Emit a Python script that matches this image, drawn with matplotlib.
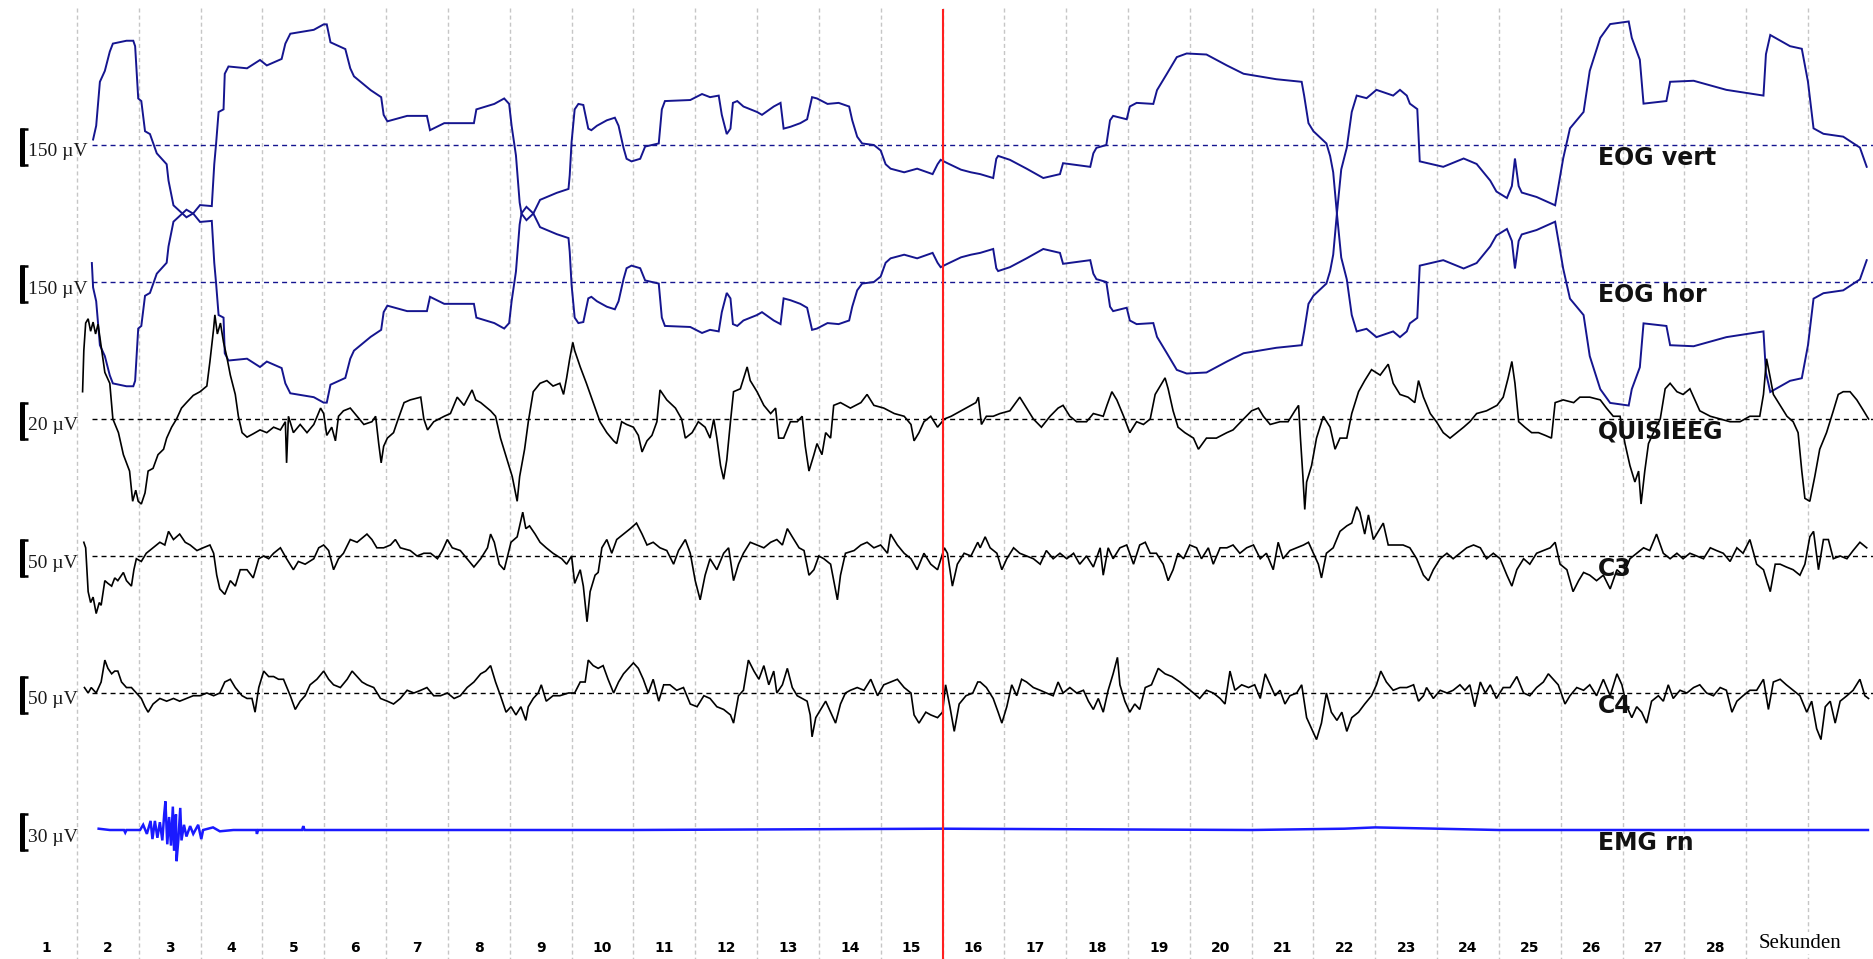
import matplotlib
matplotlib.use("Agg")
import matplotlib.pyplot as plt

# recording: 30 s page, values in microvolts, time in seconds
eog_vert = [(1.26, 21), (1.31, 74), (1.37, 243), (1.45, 285), (1.53, 359), (1.58, 390), (1.80, 401), (1.91, 401),
            (1.94, 380), (1.99, 179), (2.04, 169), (2.10, 53), (2.18, 42), (2.29, -32), (2.45, -74), (2.48, -137),
            (2.56, -232), (2.67, -256), (2.77, -278), (2.88, -263), (2.99, -231), (3.18, -235), (3.22, -74),
            (3.25, 6), (3.29, 127), (3.37, 137), (3.39, 274), (3.45, 302), (3.75, 295), (3.96, 327), (4.07, 306),
            (4.31, 331), (4.37, 390), (4.45, 428), (4.83, 443), (4.99, 464), (5.04, 464), (5.10, 395), (5.34, 369),
            (5.42, 295), (5.48, 264), (5.75, 211), (5.92, 184), (5.96, 116), (6.02, 91), (6.34, 112), (6.66, 112),
            (6.71, 57), (6.94, 84), (7.42, 84), (7.46, 137), (7.75, 158), (7.91, 179), (7.99, 158), (8.03, 74),
            (8.10, -40), (8.16, -221), (8.19, -264), (8.27, -289), (8.38, -264), (8.49, -211), (8.76, -184),
            (8.95, -169), (8.97, -116), (9.00, 11), (9.05, 137), (9.11, 158), (9.19, 154), (9.27, 63), (9.32, 57),
            (9.41, 74), (9.57, 95), (9.70, 105), (9.76, 74), (9.84, -11), (9.89, -53), (9.97, -63), (10.11, -53),
            (10.19, -6), (10.41, 6), (10.46, 137), (10.51, 169), (10.92, 173), (11.11, 196), (11.24, 184),
            (11.38, 190), (11.43, 116), (11.51, 42), (11.57, 63), (11.61, 162), (11.68, 169), (11.78, 148),
            (12.00, 127), (12.08, 116), (12.27, 148), (12.38, 162), (12.43, 63), (12.54, 70), (12.70, 84),
            (12.81, 99), (12.89, 184), (12.97, 179), (13.14, 158), (13.32, 162), (13.49, 148), (13.54, 95),
            (13.62, 32), (13.70, 6), (13.89, 0), (14.00, -21), (14.08, -74), (14.16, -91), (14.38, -105),
            (14.59, -91), (14.76, -105), (14.84, -112), (14.92, -74), (14.97, -57), (15.08, -70), (15.30, -95),
            (15.46, -105), (15.61, -112), (15.82, -127), (15.87, -53), (15.90, -42), (16.09, -57), (16.36, -91),
            (16.63, -127), (16.90, -112), (16.95, -70), (17.39, -84), (17.44, -32), (17.49, -11), (17.65, 0),
            (17.71, 95), (17.76, 112), (17.98, 99), (18.03, 148), (18.14, 162), (18.41, 158), (18.47, 211),
            (18.63, 274), (18.79, 338), (18.95, 352), (19.27, 348), (19.60, 306), (19.87, 274), (20.40, 253),
            (20.81, 243), (20.85, 190), (20.92, 84), (21.00, 53), (21.21, 6), (21.27, -42), (21.32, -105),
            (21.38, -264), (21.45, -433), (21.54, -517), (21.62, -654), (21.70, -717), (21.86, -707), (22.02, -739),
            (22.29, -717), (22.40, -739), (22.51, -717), (22.56, -686), (22.68, -665), (22.72, -464), (23.10, -443),
            (23.43, -475), (23.64, -454), (23.86, -390), (23.96, -348), (24.13, -323), (24.21, -369), (24.26, -475),
            (24.32, -369), (24.37, -344), (24.61, -327), (24.91, -295), (25.04, -475), (25.15, -591), (25.37, -654),
            (25.47, -812), (25.64, -939), (25.80, -992), (26.10, -1002), (26.15, -939), (26.28, -855), (26.34, -686),
            (26.71, -696), (26.77, -770), (27.15, -774), (27.68, -739), (28.28, -717), (28.32, -876), (28.39, -950),
            (28.71, -907), (28.90, -897), (29.00, -770), (29.09, -591), (29.25, -570), (29.57, -559), (29.84, -517),
            (29.95, -443)]

eog_hor = [(1.24, 73), (1.26, -21), (1.31, -74), (1.37, -243), (1.45, -285), (1.53, -359), (1.58, -390),
           (1.80, -401), (1.91, -401), (1.94, -380), (1.99, -179), (2.04, -169), (2.10, -53), (2.18, -42),
           (2.29, 32), (2.45, 74), (2.48, 137), (2.56, 232), (2.67, 256), (2.77, 278), (2.88, 263), (2.99, 231),
           (3.18, 235), (3.22, 74), (3.25, -6), (3.29, -127), (3.37, -137), (3.39, -274), (3.45, -302),
           (3.75, -295), (3.96, -327), (4.07, -306), (4.31, -331), (4.37, -390), (4.45, -428), (4.83, -443),
           (4.99, -464), (5.04, -464), (5.10, -395), (5.34, -369), (5.42, -295), (5.48, -264), (5.75, -211),
           (5.92, -184), (5.96, -116), (6.02, -91), (6.34, -112), (6.66, -112), (6.71, -57), (6.94, -84),
           (7.42, -84), (7.46, -137), (7.75, -158), (7.91, -179), (7.99, -158), (8.03, -74), (8.10, 40),
           (8.16, 221), (8.19, 264), (8.27, 289), (8.38, 264), (8.49, 211), (8.76, 184), (8.95, 169), (8.97, 116),
           (9.00, -11), (9.05, -137), (9.11, -158), (9.19, -154), (9.27, -63), (9.32, -57), (9.41, -74),
           (9.57, -95), (9.70, -105), (9.76, -74), (9.84, 11), (9.89, 53), (9.97, 63), (10.11, 53), (10.19, 6),
           (10.41, -6), (10.46, -137), (10.51, -169), (10.92, -173), (11.11, -196), (11.24, -184), (11.38, -190),
           (11.43, -116), (11.51, -42), (11.57, -63), (11.61, -162), (11.68, -169), (11.78, -148), (12.00, -127),
           (12.08, -116), (12.27, -148), (12.38, -162), (12.43, -63), (12.54, -70), (12.70, -84), (12.81, -99),
           (12.89, -184), (12.97, -179), (13.14, -158), (13.32, -162), (13.49, -148), (13.54, -95), (13.62, -32),
           (13.70, -6), (13.89, 0), (14.00, 21), (14.08, 74), (14.16, 91), (14.38, 105), (14.59, 91), (14.76, 105),
           (14.84, 112), (14.92, 74), (14.97, 57), (15.08, 70), (15.30, 95), (15.46, 105), (15.61, 112),
           (15.82, 127), (15.87, 53), (15.90, 42), (16.09, 57), (16.36, 91), (16.63, 127), (16.90, 112),
           (16.95, 70), (17.39, 84), (17.44, 32), (17.49, 11), (17.65, 0), (17.71, -95), (17.76, -112),
           (17.98, -99), (18.03, -148), (18.14, -162), (18.41, -158), (18.47, -211), (18.63, -274), (18.79, -338),
           (18.95, -352), (19.27, -348), (19.60, -306), (19.87, -274), (20.40, -253), (20.81, -243), (20.85, -190),
           (20.92, -84), (21.00, -53), (21.21, -6), (21.27, 42), (21.32, 105), (21.38, 264), (21.45, 433),
           (21.54, 517), (21.62, 654), (21.70, 717), (21.86, 707), (22.02, 739), (22.29, 717), (22.40, 739),
           (22.51, 717), (22.56, 686), (22.68, 665), (22.72, 464), (23.10, 443), (23.43, 475), (23.64, 454),
           (23.86, 390), (23.96, 348), (24.13, 323), (24.21, 369), (24.26, 475), (24.32, 369), (24.37, 344),
           (24.61, 327), (24.91, 295), (25.04, 475), (25.15, 591), (25.37, 654), (25.47, 812), (25.64, 939),
           (25.80, 992), (26.10, 1002), (26.15, 939), (26.28, 855), (26.34, 686), (26.71, 696), (26.77, 770),
           (27.15, 774), (27.68, 739), (28.28, 717), (28.32, 876), (28.39, 950), (28.71, 907), (28.90, 897),
           (29.00, 770), (29.09, 591), (29.25, 570), (29.57, 559), (29.84, 517), (29.95, 443)]

quisieeg = [(1.09, 14.0), (1.11, 35.1), (1.14, 49.2), (1.18, 51.4), (1.22, 45.0), (1.26, 49.7), (1.30, 43.6),
            (1.34, 48.6), (1.40, 35.1), (1.45, 23.9), (1.53, 18.3), (1.58, 0.0), (1.67, -7.0), (1.75, -18.3),
            (1.80, -22.5), (1.85, -26.7), (1.90, -42.2), (1.95, -36.5), (1.99, -42.2), (2.04, -43.6), (2.10, -37.9),
            (2.15, -26.7), (2.23, -25.3), (2.31, -18.3), (2.40, -15.5), (2.45, -9.8), (2.53, -4.2), (2.61, 0.0),
            (2.69, 5.6), (2.77, 8.4), (2.88, 12.1), (2.99, 14.0), (3.10, 16.9), (3.15, 29.5), (3.21, 46.4),
            (3.23, 53.4), (3.27, 43.6), (3.32, 49.2), (3.37, 39.3), (3.42, 32.3), (3.48, 22.5), (3.56, 12.6),
            (3.61, 1.4), (3.67, -7.0), (3.75, -9.3), (3.85, -7.6), (3.96, -5.6), (4.07, -7.0), (4.18, -4.2),
            (4.29, -5.6), (4.37, -1.4), (4.39, -22.5), (4.42, 1.4), (4.50, -7.0), (4.61, -2.8), (4.72, -7.0),
            (4.83, -2.8), (4.94, 5.6), (4.99, 2.8), (5.04, -8.4), (5.12, -4.2), (5.18, -11.2), (5.23, 1.4),
            (5.31, 4.2), (5.42, 5.6), (5.53, 1.4), (5.64, -2.8), (5.77, -1.4), (5.83, 1.4), (5.88, -12.6),
            (5.92, -22.5), (5.96, -14.0), (6.02, -9.8), (6.12, -7.0), (6.18, -1.4), (6.29, 8.4), (6.39, 9.8),
            (6.56, 11.2), (6.61, 0.0), (6.67, -5.6), (6.77, -1.4), (6.94, 1.4), (7.04, 2.8), (7.15, 11.2),
            (7.26, 7.0), (7.39, 14.9), (7.45, 9.8), (7.53, 8.4), (7.69, 4.2), (7.77, 1.4), (7.85, -9.8),
            (7.96, -21.1), (8.04, -29.5), (8.12, -42.2), (8.16, -29.5), (8.24, -15.5), (8.30, -1.4), (8.38, 14.0),
            (8.49, 18.3), (8.60, 19.7), (8.70, 16.9), (8.81, 18.3), (8.87, 12.6), (8.92, 21.1), (8.97, 30.9),
            (9.02, 39.3), (9.05, 35.1), (9.14, 26.7), (9.24, 18.3), (9.35, 8.4), (9.46, -1.4), (9.57, -7.0),
            (9.68, -11.2), (9.73, -12.6), (9.81, -1.4), (9.89, -2.8), (10.00, -4.2), (10.08, -8.4), (10.14, -16.9),
            (10.22, -11.2), (10.30, -8.4), (10.38, -1.4), (10.43, 14.9), (10.54, 9.8), (10.68, 5.6), (10.78, 0.0),
            (10.84, -9.8), (10.95, -7.0), (11.05, -1.4), (11.16, -4.2), (11.24, -9.8), (11.30, 0.0), (11.35, -9.8),
            (11.41, -23.9), (11.46, -30.9), (11.51, -21.1), (11.57, -1.4), (11.62, 14.0), (11.73, 15.5),
            (11.84, 26.7), (11.89, 19.7), (12.00, 14.0), (12.11, 7.0), (12.22, 2.8), (12.30, 5.6), (12.35, -9.8),
            (12.43, -9.8), (12.54, -1.4), (12.65, -1.4), (12.73, 1.4), (12.78, -14.0), (12.84, -26.7),
            (12.92, -18.3), (12.97, -12.6), (13.05, -18.3), (13.11, -7.0), (13.19, -9.8), (13.24, 7.0), (13.35, 8.4),
            (13.51, 5.6), (13.68, 8.4), (13.78, 12.6), (13.89, 7.0), (14.05, 5.6), (14.22, 2.8), (14.38, 1.4),
            (14.49, -2.8), (14.54, -11.2), (14.62, -7.0), (14.70, -1.4), (14.81, 1.4), (14.92, -4.2), (15.03, 0.0),
            (15.14, 1.4), (15.30, 4.2), (15.46, 7.0), (15.54, 8.4), (15.58, 11.2), (15.63, -2.8), (15.71, 1.4),
            (15.82, 1.4), (15.93, 2.8), (16.09, 4.2), (16.25, 11.2), (16.36, 5.6), (16.47, 0.0), (16.60, -4.2),
            (16.74, 1.4), (16.87, 5.6), (16.95, 7.0), (17.06, 1.4), (17.17, -1.4), (17.33, -1.4), (17.44, 2.8),
            (17.60, 1.4), (17.66, 7.0), (17.74, 14.0), (17.82, 9.8), (17.93, 1.4), (18.03, -7.0), (18.14, -1.4),
            (18.25, -2.8), (18.36, 0.0), (18.44, 12.6), (18.52, 16.9), (18.60, 21.1), (18.65, 15.5), (18.73, 4.2),
            (18.81, -4.2), (18.92, -7.0), (19.06, -9.8), (19.14, -15.5), (19.27, -9.8), (19.43, -9.8), (19.60, -7.0),
            (19.70, -5.6), (19.87, 0.0), (20.00, 4.2), (20.11, 5.6), (20.19, 1.4), (20.30, -2.8), (20.46, -1.4),
            (20.59, -1.4), (20.70, 4.2), (20.76, 7.0), (20.79, -9.8), (20.83, -29.5), (20.86, -46.4),
            (20.89, -32.3), (20.97, -23.9), (21.05, -9.8), (21.16, 1.4), (21.27, -4.2), (21.35, -15.5),
            (21.43, -9.8), (21.54, -9.8), (21.62, 2.8), (21.73, 14.0), (21.83, 19.7), (21.94, 25.3), (22.08, 22.5),
            (22.21, 28.1), (22.29, 18.3), (22.40, 12.6), (22.53, 11.2), (22.64, 8.4), (22.70, 19.7), (22.78, 11.2),
            (22.89, 2.8), (22.99, -1.4), (23.10, -7.0), (23.21, -9.8), (23.32, -7.0), (23.43, -4.2), (23.53, -1.4),
            (23.64, 2.8), (23.80, 4.2), (23.97, 7.0), (24.07, 11.2), (24.15, 21.1), (24.21, 29.5), (24.26, 18.3),
            (24.32, -1.4), (24.42, -4.2), (24.53, -7.0), (24.64, -7.0), (24.75, -8.4), (24.85, -9.8), (24.91, 8.4),
            (25.04, 9.8), (25.21, 8.4), (25.31, 11.2), (25.47, 11.2), (25.64, 9.8), (25.74, 5.6), (25.85, 1.4),
            (25.96, 1.4), (26.04, -12.6), (26.12, -23.9), (26.20, -32.3), (26.26, -26.7), (26.30, -43.6),
            (26.36, -26.7), (26.42, -12.6), (26.50, -7.0), (26.61, 0.0), (26.69, 15.5), (26.77, 18.3), (26.88, 14.0),
            (26.98, 12.6), (27.09, 15.5), (27.17, 9.8), (27.25, 4.2), (27.42, 1.4), (27.58, 0.0), (27.74, -1.4),
            (27.90, -1.4), (28.06, 1.4), (28.22, 1.4), (28.28, 12.6), (28.33, 30.9), (28.39, 21.1), (28.44, 12.6),
            (28.55, 7.0), (28.66, 1.4), (28.76, -1.4), (28.84, -7.0), (28.90, -26.7), (28.95, -40.7), (29.03, -42.2),
            (29.11, -29.5), (29.19, -15.5), (29.30, -7.0), (29.41, 4.2), (29.49, 12.6), (29.57, 14.0), (29.68, 14.0),
            (29.79, 9.8), (29.90, 4.2), (29.98, 0.0)]

c3 = [(1.11, 17.6), (1.14, 10.5), (1.18, -45.7), (1.22, -59.7), (1.26, -52.7), (1.31, -73.8), (1.36, -59.7),
      (1.39, -63.2), (1.45, -31.6), (1.50, -35.1), (1.56, -38.6), (1.61, -28.1), (1.66, -31.6), (1.75, -21.1),
      (1.80, -31.6), (1.88, -38.6), (1.92, -17.6), (1.96, -3.5), (2.04, -7.0), (2.12, 3.5), (2.23, 10.5),
      (2.34, 17.6), (2.42, 14.1), (2.48, 31.6), (2.56, 21.1), (2.66, 28.1), (2.75, 17.6), (2.83, 14.1), (2.94, 7.0),
      (3.04, 10.5), (3.15, 14.1), (3.21, 3.5), (3.26, -24.6), (3.31, -42.2), (3.39, -49.2), (3.48, -31.6),
      (3.56, -38.6), (3.64, -17.6), (3.75, -17.6), (3.85, -28.1), (3.94, -3.5), (4.02, 0.0), (4.10, -3.5),
      (4.18, 3.5), (4.29, 10.5), (4.39, -3.5), (4.50, -17.6), (4.58, -7.0), (4.69, -10.5), (4.83, -3.5),
      (4.91, 10.5), (4.99, 14.1), (5.07, 7.0), (5.15, -17.6), (5.23, -3.5), (5.31, 3.5), (5.42, 21.1), (5.53, 17.6),
      (5.69, 28.1), (5.77, 21.1), (5.85, 10.5), (5.96, 10.5), (6.07, 14.1), (6.15, 21.1), (6.23, 10.5), (6.39, 7.0),
      (6.50, 0.0), (6.61, 3.5), (6.72, 3.5), (6.83, -3.5), (6.91, 7.0), (6.99, 21.1), (7.07, 10.5), (7.20, 7.0),
      (7.31, -3.5), (7.42, -14.1), (7.53, -3.5), (7.64, 10.5), (7.69, 28.1), (7.75, 17.6), (7.83, -10.5),
      (7.91, -17.6), (8.02, 17.6), (8.12, 24.6), (8.21, 56.2), (8.26, 35.1), (8.32, 38.6), (8.41, 28.1),
      (8.49, 17.6), (8.59, 10.5), (8.70, 3.5), (8.84, -3.5), (8.92, -10.5), (9.00, 0.0), (9.05, -35.1),
      (9.14, -17.6), (9.19, -38.6), (9.25, -84.3), (9.30, -45.7), (9.38, -24.6), (9.43, -21.1), (9.49, 10.5),
      (9.57, 21.1), (9.65, 3.5), (9.73, 21.1), (9.84, 28.1), (9.95, 35.1), (10.05, 42.2), (10.14, 28.1),
      (10.22, 14.1), (10.32, 17.6), (10.43, 10.5), (10.54, 7.0), (10.65, -10.5), (10.73, 7.0), (10.84, 21.1),
      (10.92, 3.5), (11.00, -31.6), (11.08, -56.2), (11.16, -24.6), (11.24, -3.5), (11.35, -17.6), (11.46, 3.5),
      (11.54, 10.5), (11.62, -31.6), (11.70, -10.5), (11.78, 3.5), (11.89, 17.6), (12.00, 14.1), (12.11, 10.5),
      (12.22, 17.6), (12.32, 21.1), (12.41, 14.1), (12.49, 35.1), (12.57, 24.6), (12.68, 10.5), (12.76, 7.0),
      (12.84, -24.6), (12.92, -17.6), (13.00, 0.0), (13.08, -3.5), (13.19, -10.5), (13.24, -31.6), (13.30, -56.2),
      (13.35, -24.6), (13.43, 3.5), (13.57, 7.0), (13.68, 14.1), (13.78, 17.6), (13.89, 10.5), (14.00, 14.1),
      (14.11, 3.5), (14.16, 28.1), (14.27, 14.1), (14.38, 3.5), (14.49, -3.5), (14.59, -17.6), (14.70, 3.5),
      (14.81, -10.5), (14.92, -17.6), (15.03, 10.5), (15.08, 3.5), (15.16, -38.6), (15.24, -10.5), (15.35, 3.5),
      (15.46, 0.0), (15.57, 17.6), (15.61, 10.5), (15.69, 24.6), (15.77, 10.5), (15.88, 3.5), (15.96, -17.6),
      (16.04, -3.5), (16.15, 10.5), (16.25, 3.5), (16.36, 0.0), (16.47, -3.5), (16.58, -10.5), (16.68, 7.0),
      (16.79, -3.5), (16.90, 3.5), (17.01, -3.5), (17.12, 3.5), (17.22, -10.5), (17.33, 0.0), (17.44, -14.1),
      (17.55, 10.5), (17.60, -24.6), (17.68, 10.5), (17.76, -3.5), (17.87, 10.5), (17.98, 14.1), (18.09, -10.5),
      (18.19, 14.1), (18.28, 17.6), (18.36, 3.5), (18.46, 3.5), (18.57, -10.5), (18.65, -31.6), (18.73, -17.6),
      (18.81, 3.5), (18.90, -3.5), (19.00, 14.1), (19.11, 10.5), (19.19, -3.5), (19.30, 10.5), (19.38, -10.5),
      (19.49, 10.5), (19.60, 10.5), (19.70, 14.1), (19.81, 3.5), (19.92, 10.5), (20.03, 14.1), (20.14, -3.5),
      (20.24, 3.5), (20.35, -17.6), (20.43, 17.6), (20.51, -3.5), (20.62, 7.0), (20.73, 10.5), (20.84, 14.1),
      (20.92, 17.6), (21.00, 3.5), (21.08, -10.5), (21.13, -28.1), (21.21, 3.5), (21.32, 10.5), (21.43, 31.6),
      (21.54, 38.6), (21.62, 42.2), (21.70, 63.2), (21.75, 56.2), (21.83, 28.1), (21.89, 52.7), (21.97, 21.1),
      (22.05, 31.6), (22.13, 42.2), (22.21, 14.1), (22.35, 14.1), (22.45, 14.1), (22.56, 10.5), (22.67, -3.5),
      (22.78, -24.6), (22.86, -31.6), (22.94, -17.6), (23.05, -3.5), (23.16, 3.5), (23.26, -3.5), (23.37, 3.5),
      (23.48, 10.5), (23.59, 14.1), (23.70, 10.5), (23.80, -3.5), (23.91, 3.5), (24.02, -3.5), (24.13, -24.6),
      (24.21, -38.6), (24.29, -17.6), (24.40, -3.5), (24.50, -10.5), (24.61, 3.5), (24.72, 7.0), (24.83, 10.5),
      (24.91, 17.6), (24.99, -10.5), (25.10, -17.6), (25.20, -45.7), (25.29, -31.6), (25.37, -21.1),
      (25.47, -24.6), (25.58, -31.6), (25.69, -24.6), (25.80, -42.2), (25.91, -17.6), (26.01, -24.6),
      (26.12, -3.5), (26.23, 3.5), (26.34, 10.5), (26.44, 7.0), (26.55, 28.1), (26.66, 3.5), (26.77, -3.5),
      (26.88, 3.5), (26.98, -3.5), (27.09, 3.5), (27.20, 0.0), (27.31, -3.5), (27.42, 10.5), (27.52, 7.0),
      (27.63, 3.5), (27.74, -7.0), (27.85, 10.5), (27.95, 3.5), (28.06, 21.1), (28.17, -10.5), (28.28, -17.6),
      (28.39, -45.7), (28.47, -10.5), (28.55, -10.5), (28.65, -14.1), (28.76, -17.6), (28.87, -24.6),
      (28.95, -10.5), (29.03, 24.6), (29.09, 31.6), (29.17, -17.6), (29.25, 21.1), (29.33, 21.1), (29.41, -3.5),
      (29.52, 0.0), (29.63, -3.5), (29.73, 7.0), (29.84, 17.6), (29.95, 10.5)]

c4 = [(1.12, 7.0), (1.18, 0.0), (1.23, 7.0), (1.31, 0.0), (1.39, 14.1), (1.45, 42.2), (1.50, 31.6), (1.56, 24.6),
      (1.61, 28.1), (1.66, 28.1), (1.72, 14.1), (1.80, 7.0), (1.88, 7.0), (1.96, 0.0), (2.04, -7.0), (2.10, -17.6),
      (2.15, -24.6), (2.23, -14.1), (2.34, -7.0), (2.45, -10.5), (2.56, -7.0), (2.66, -10.5), (2.77, -7.0),
      (2.88, -3.5), (2.99, -3.5), (3.10, 0.0), (3.21, -3.5), (3.31, 0.0), (3.39, 14.1), (3.48, 17.6), (3.56, 7.0),
      (3.67, -3.5), (3.75, -7.0), (3.83, -7.0), (3.88, -24.6), (3.94, 7.0), (4.02, 28.1), (4.10, 21.1),
      (4.18, 21.1), (4.26, 17.6), (4.34, 17.6), (4.45, -3.5), (4.53, -21.1), (4.61, -10.5), (4.69, -3.5),
      (4.77, 10.5), (4.88, 17.6), (4.99, 28.1), (5.07, 17.6), (5.15, 10.5), (5.26, 7.0), (5.37, 17.6), (5.45, 28.1),
      (5.53, 21.1), (5.61, 14.1), (5.69, 10.5), (5.80, 7.0), (5.91, -7.0), (6.02, -10.5), (6.12, -14.1),
      (6.23, -7.0), (6.34, 3.5), (6.45, 0.0), (6.56, 3.5), (6.66, 7.0), (6.77, -3.5), (6.88, -3.5), (6.99, 0.0),
      (7.10, -7.0), (7.20, -3.5), (7.31, 7.0), (7.42, 14.1), (7.53, 24.6), (7.61, 28.1), (7.69, 35.1), (7.77, 14.1),
      (7.85, -3.5), (7.94, -24.6), (8.02, -17.6), (8.10, -28.1), (8.18, -17.6), (8.26, -35.1), (8.30, -17.6),
      (8.38, -7.0), (8.46, 0.0), (8.51, 10.5), (8.59, -10.5), (8.70, -3.5), (8.81, -3.5), (8.95, 0.0), (9.05, 0.0),
      (9.14, 14.1), (9.22, 14.1), (9.27, 42.2), (9.35, 35.1), (9.43, 31.6), (9.51, 35.1), (9.59, 17.6), (9.68, 0.0),
      (9.76, 14.1), (9.84, 24.6), (9.92, 31.6), (10.00, 38.6), (10.08, 31.6), (10.16, 17.6), (10.24, 0.0),
      (10.32, 17.6), (10.41, -10.5), (10.49, 10.5), (10.59, 10.5), (10.70, 3.5), (10.81, 7.0), (10.92, -14.1),
      (11.03, -17.6), (11.14, -3.5), (11.24, -7.0), (11.35, -17.6), (11.46, -21.1), (11.57, -28.1), (11.62, -38.6),
      (11.70, -3.5), (11.78, 3.5), (11.86, 42.2), (11.95, 28.1), (12.03, 17.6), (12.11, 35.1), (12.19, 10.5),
      (12.27, 28.1), (12.32, 0.0), (12.41, 10.5), (12.49, 31.6), (12.57, 7.0), (12.65, -3.5), (12.73, -7.0),
      (12.81, -10.5), (12.86, -28.1), (12.89, -56.2), (12.95, -31.6), (13.03, -21.1), (13.11, -10.5),
      (13.19, -24.6), (13.27, -38.6), (13.35, -14.1), (13.43, 0.0), (13.51, 3.5), (13.62, 7.0), (13.73, 3.5),
      (13.84, 17.6), (13.95, -3.5), (14.05, 10.5), (14.16, 14.1), (14.27, 17.6), (14.38, 7.0), (14.49, 0.0),
      (14.54, -28.1), (14.62, -38.6), (14.73, -24.6), (14.81, -28.1), (14.92, -31.6), (15.00, -24.6),
      (15.05, 10.5), (15.12, -17.6), (15.19, -49.2), (15.27, -14.1), (15.38, -3.5), (15.49, 0.0), (15.57, 14.1),
      (15.61, 14.1), (15.71, 7.0), (15.82, -7.0), (15.90, -24.6), (15.96, -38.6), (16.04, -17.6), (16.12, 10.5),
      (16.20, -3.5), (16.28, 17.6), (16.36, 14.1), (16.47, 7.0), (16.58, 3.5), (16.68, 0.0), (16.79, -3.5),
      (16.87, 14.1), (16.95, 0.0), (17.06, 7.0), (17.17, 0.0), (17.28, 3.5), (17.36, -10.5), (17.44, -21.1),
      (17.52, -7.0), (17.60, -24.6), (17.68, 3.5), (17.76, 24.6), (17.83, 45.7), (17.87, 10.5), (17.95, -10.5),
      (18.03, -24.6), (18.11, -14.1), (18.19, -21.1), (18.28, 7.0), (18.38, 10.5), (18.49, 31.6), (18.60, 24.6),
      (18.71, 21.1), (18.84, 14.1), (18.95, 7.0), (19.06, 0.0), (19.16, -7.0), (19.27, 3.5), (19.38, 0.0),
      (19.49, -7.0), (19.57, -14.1), (19.65, 28.1), (19.73, 3.5), (19.84, 10.5), (19.95, 7.0), (20.05, 10.5),
      (20.14, -7.0), (20.22, 24.6), (20.30, 10.5), (20.38, -3.5), (20.46, 3.5), (20.54, -14.1), (20.62, -3.5),
      (20.73, 0.0), (20.81, 10.5), (20.89, -31.6), (20.97, -45.7), (21.05, -59.7), (21.13, -38.6), (21.21, 0.0),
      (21.29, -24.6), (21.38, -35.1), (21.46, -24.6), (21.54, -49.2), (21.62, -31.6), (21.73, -24.6),
      (21.83, -14.1), (21.94, -3.5), (22.02, 10.5), (22.09, 28.1), (22.18, 14.1), (22.29, 3.5), (22.40, 7.0),
      (22.51, 7.0), (22.62, 10.5), (22.70, -10.5), (22.78, -3.5), (22.83, 7.0), (22.94, -7.0), (23.05, 3.5),
      (23.16, 0.0), (23.26, 3.5), (23.37, 10.5), (23.45, 3.5), (23.53, 10.5), (23.61, -17.6), (23.70, 14.1),
      (23.78, 0.0), (23.86, 10.5), (23.96, -7.0), (24.07, 7.0), (24.18, 7.0), (24.29, 21.1), (24.40, 0.0),
      (24.50, -3.5), (24.61, 7.0), (24.72, 14.1), (24.80, 24.6), (24.88, 17.6), (24.96, 10.5), (25.07, -14.1),
      (25.15, -3.5), (25.26, 7.0), (25.37, 3.5), (25.47, 10.5), (25.58, -3.5), (25.69, 17.6), (25.80, -3.5),
      (25.91, 24.6), (25.99, 10.5), (26.07, -17.6), (26.15, -31.6), (26.23, -17.6), (26.31, -24.6),
      (26.39, -38.6), (26.47, -10.5), (26.58, -3.5), (26.66, -10.5), (26.74, 10.5), (26.82, -7.0), (26.93, 3.5),
      (27.04, 0.0), (27.15, 7.0), (27.25, 10.5), (27.36, 0.0), (27.47, -3.5), (27.58, 7.0), (27.68, 3.5),
      (27.77, -24.6), (27.85, -10.5), (27.95, -3.5), (28.06, 3.5), (28.17, 3.5), (28.28, 17.6), (28.36, -21.1),
      (28.44, 14.1), (28.55, 17.6), (28.65, 10.5), (28.76, 3.5), (28.87, -3.5), (28.98, -24.6), (29.06, -10.5),
      (29.14, -45.7), (29.21, -59.7), (29.28, -17.6), (29.36, -10.5), (29.44, -38.6), (29.52, -10.5),
      (29.63, -3.5), (29.73, 3.5), (29.84, 17.6), (29.92, -3.5), (29.98, -7.0)]

emg = [(1.35, 1), (1.53, 0), (1.76, 0), (1.78, -2), (1.80, 0), (2.02, 0), (2.07, 4), (2.13, -3), (2.19, 7),
       (2.22, -7), (2.26, 7), (2.30, -6), (2.34, 6), (2.38, -8), (2.41, 12), (2.43, 22), (2.46, -11), (2.49, 10),
       (2.52, -12), (2.55, 18), (2.57, -16), (2.60, 12), (2.61, -24), (2.64, -7), (2.67, 17), (2.69, -8),
       (2.73, 4), (2.77, -5), (2.83, 3), (2.88, -3), (2.96, 4), (3.01, -7), (3.04, 0), (3.20, 2), (3.31, -1),
       (3.53, 0), (3.90, 0), (3.91, -3), (3.93, 0), (4.64, 0), (4.66, 3), (4.68, 0), (10.0, 0), (15.0, 1),
       (20.0, 0), (21.5, 1), (22.0, 2), (23.0, 1), (24.0, 0), (27.0, 0), (29.97, 0)]

channels = ["EOG vert", "EOG hor", "QUISIEEG", "C3", "C4", "EMG rn"]
traces = [eog_vert, eog_hor, quisieeg, c3, c4, emg]
scale_uv = [150, 150, 20, 50, 50, 30]
second_labels = [str(s) for s in range(1, 29)]
cursor_s = 15

# layout (pixels of the 1874x959 page)
W, H = 1874, 959
sec_px, t0_px = 61.82, 15.2
bar_px = 39
first_base, row_px = 145, 137
t_lo, t_hi = -t0_px / sec_px, (W - t0_px) / sec_px
colors = ["#15158f", "#15158f", "black", "black", "black", "#1a1aff"]
widths = [1.4, 1.4, 1.2, 1.2, 1.2, 1.8]

plt.rcParams["font.family"] = ["DejaVu Sans"]
fig = plt.figure(figsize=(W / 100, H / 100), dpi=100)
fig.patch.set_facecolor("white")


def page_axes():
    ax = fig.add_axes([0, 0, 1, 1])
    ax.set_xlim(t_lo, t_hi)
    ax.set_ylim(H, 0)
    ax.axis("off")
    ax.patch.set_alpha(0)
    return ax


base = page_axes()
base.vlines(range(1, 30), 8, H, colors="#c6c6c6", lw=1.0, linestyles=(0, (2.9, 2.2)))

for i, (name, pts) in enumerate(zip(channels, traces)):
    b = first_base + row_px * i
    k = bar_px / scale_uv[i]
    ax = fig.add_axes([0, 0, 1, 1])
    ax.set_xlim(t_lo, t_hi)
    ax.set_ylim((b - H) / k, b / k)
    ax.axis("off")
    ax.patch.set_alpha(0)
    if i < 5:
        ax.hlines(0, (92 - t0_px) / sec_px, t_hi, colors=colors[i] if i < 2 else "black",
                  lw=1.0, linestyles=(0, (3.6, 2.9)))
    t, v = zip(*pts)
    ax.plot(t, v, color=colors[i], lw=widths[i], solid_joinstyle="miter")

top = fig.add_axes([0, 0, 1, 1])
top.set_xlim(0, W)
top.set_ylim(H, 0)
top.axis("off")
top.patch.set_alpha(0)
for i, name in enumerate(channels):
    b = first_base + row_px * i
    top.plot([22.5, 22.5], [b - 17, b + 21], color="black", lw=3.6, solid_capstyle="butt")
    top.plot([20, 28], [b - 16, b - 16], color="black", lw=1.8, solid_capstyle="butt")
    top.plot([20, 28], [b + 20, b + 20], color="black", lw=1.8, solid_capstyle="butt")
    top.text(28, b + 7, f"{scale_uv[i]} \u00b5V", family="Liberation Serif", fontsize=14,
             color="#1a1a1a", va="center", ha="left")
    top.text(1598, b + 13, name, fontsize=17, fontweight="bold", color="#111111",
             va="center", ha="left")

cur = page_axes()
cur.vlines(cursor_s, 9, H, colors="#ff2020", lw=1.5)
for s, lab in enumerate(second_labels):
    cur.text(s + 0.5, 948, lab, fontsize=10, fontweight="bold", ha="center", va="center")
cur.text(28.2, 943, "Sekunden", family="Liberation Serif", fontsize=15, ha="left", va="center",
         bbox=dict(facecolor="white", edgecolor="none", pad=1))

fig.savefig("out.png", dpi=100, facecolor="white")
